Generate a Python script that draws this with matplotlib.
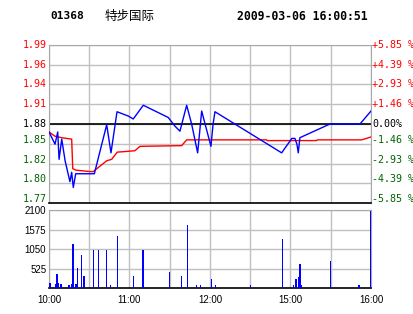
import numpy as np
import matplotlib.pyplot as plt
from matplotlib.transforms import offset_copy

# header
code = '01368'
name = '特步国际'
stamp = '2009-03-06 16:00:51'

# price axis labels (left) and percent labels (right)
prev_close = 1.88
price_labels = ['1.99', '1.96', '1.94', '1.91', '1.88', '1.85', '1.82', '1.80', '1.77']
pct_labels = ['+5.85 %', '+4.39 %', '+2.93 %', '+1.46 %', '0.00%',
              '-1.46 %', '-2.93 %', '-4.39 %', '-5.85 %']
time_ticks = [0, 60, 120, 180, 240]          # trading minutes from 10:00
time_labels = ['10:00', '11:00', '12:00', '15:00', '16:00']
vol_ticks = [525, 1050, 1575, 2100]

# last price line (trading minute, price)
price_min = [0, 4.5, 6.5, 7.5, 9.5, 12, 15.6, 16.9, 18.1, 19.9, 33.8, 43, 46.2,
             50.7, 59.1, 62.8, 70.3, 88.9, 93.9, 97.6, 102.6, 106.3, 110.8,
             113.8, 120.7, 122.3, 123.7, 173.4, 181, 183.3, 184.8, 185.8, 187,
             209.4, 231.8, 240]
price = [1.869, 1.852, 1.869, 1.831, 1.859, 1.829, 1.800, 1.813, 1.792, 1.811,
         1.811, 1.879, 1.840, 1.897, 1.891, 1.887, 1.906, 1.889, 1.877, 1.870,
         1.906, 1.880, 1.840, 1.898, 1.849, 1.880, 1.897, 1.840, 1.860, 1.860,
         1.852, 1.840, 1.861, 1.880, 1.880, 1.898]

# average price line
avg_min = [0, 4.5, 9.5, 16.9, 17.7, 20.1, 30.6, 33, 43, 46.7, 50.9, 58.4, 64.1,
           67.8, 98.9, 102.6, 162.2, 162.6, 199.5, 200, 233, 240]
avg = [1.869, 1.863, 1.861, 1.859, 1.818, 1.816, 1.814, 1.814, 1.829, 1.831,
       1.841, 1.842, 1.843, 1.849, 1.850, 1.858, 1.858, 1.857, 1.857, 1.858,
       1.858, 1.862]

# volume bars
vol_min = [0, 1, 5, 6, 7, 9, 15, 17, 18, 20, 21, 24, 26, 33, 37, 43, 46, 51, 63,
           70, 90, 99, 103, 110, 113, 121, 124, 150, 174, 182, 184, 186, 187,
           188, 210, 231, 240]
vol = [134, 134, 117, 380, 130, 110, 80, 125, 1190, 125, 545, 885, 330, 1020,
       1020, 1020, 80, 1400, 330, 1020, 440, 330, 1690, 90, 90, 250, 90, 100,
       1320, 90, 250, 300, 650, 100, 730, 100, 2080]

RED = '#ff0000'
GREEN = '#006400'
GRID = '#c0c0c0'
mono = 'DejaVu Sans Mono'

W, H = 414, 314
fig = plt.figure(figsize=(W / 100, H / 100), dpi=100)
fig.patch.set_facecolor('white')

ax = fig.add_axes([49 / W, 1 - 203.3 / H, 322 / W, (203.3 - 44.7) / H])
axv = fig.add_axes([49 / W, 1 - 288.3 / H, 322 / W, (288.3 - 210) / H])

# ---- price panel
levels = np.linspace(1.99, 1.77, 9)
ax.set_xlim(0, 240)
ax.set_ylim(1.77, 1.99)
ax.set_xticks(range(0, 241, 30))
ax.set_yticks(levels)
ax.tick_params(length=0, labelbottom=False, labelleft=False)
ax.grid(color=GRID, lw=1)
ax.set_axisbelow(True)
for s in ['left', 'top', 'right']:
    ax.spines[s].set_color('#a8a8a8')
ax.spines['bottom'].set_color('black')
ax.spines['bottom'].set_linewidth(1.2)
ax.axhline(prev_close, color='black', lw=1.2, zorder=2)

ax.plot(avg_min, avg, color=RED, lw=1, zorder=3)
ax.plot(price_min, price, color='blue', lw=1, zorder=4)

ytr = ax.get_yaxis_transform()
for lvl, pl, pc in zip(levels, price_labels, pct_labels):
    if abs(lvl - prev_close) < 1e-6:
        col, dy = 'black', 0
    elif lvl > prev_close:
        col, dy = RED, 0
    else:
        col, dy = GREEN, 4
    tl = offset_copy(ytr, fig=fig, x=-2.5, y=dy, units='dots')
    tr = offset_copy(ytr, fig=fig, x=1, y=dy, units='dots')
    ax.text(0, lvl, pl, transform=tl, ha='right', va='center', color=col,
            family=mono, fontsize=7.2)
    ax.text(1, lvl, pc, transform=tr, ha='left', va='center', color=col,
            family=mono, fontsize=7.2)

# ---- volume panel
axv.bar(vol_min, vol, width=1.0, color='blue', lw=0, antialiased=False, zorder=3)
axv.set_xlim(0, 240)
axv.set_ylim(0, 2100)
axv.set_yticks(vol_ticks)
axv.set_yticklabels([str(v) for v in vol_ticks])
axv.set_xticks(range(0, 241, 30))
axv.set_xticklabels([time_labels[time_ticks.index(t)] if t in time_ticks else ''
                     for t in range(0, 241, 30)])
axv.tick_params(length=0, labelsize=7, pad=2)
axv.tick_params(axis='x', pad=4.5)
for lab in axv.get_xticklabels() + axv.get_yticklabels():
    lab.set_family('Liberation Sans')
axv.grid(color=GRID, lw=1)
axv.set_axisbelow(True)
for s in ['left', 'top', 'right']:
    axv.spines[s].set_color('#a8a8a8')
axv.spines['bottom'].set_color('black')
axv.spines['bottom'].set_linewidth(1.2)

# ---- header
fig.text(50 / W, 1 - 16 / H, code, family=mono, weight='bold', fontsize=8,
         va='center', ha='left')
fig.text(105 / W, 1 - 16 / H, name, family=['Noto Sans CJK SC', 'DejaVu Sans'],
         fontsize=9, va='center', ha='left')
fig.text(237.5 / W, 1 - 16 / H, stamp, family=mono, weight='bold', fontsize=8.3,
         va='center', ha='left')

fig.savefig('out.png', dpi=100)
